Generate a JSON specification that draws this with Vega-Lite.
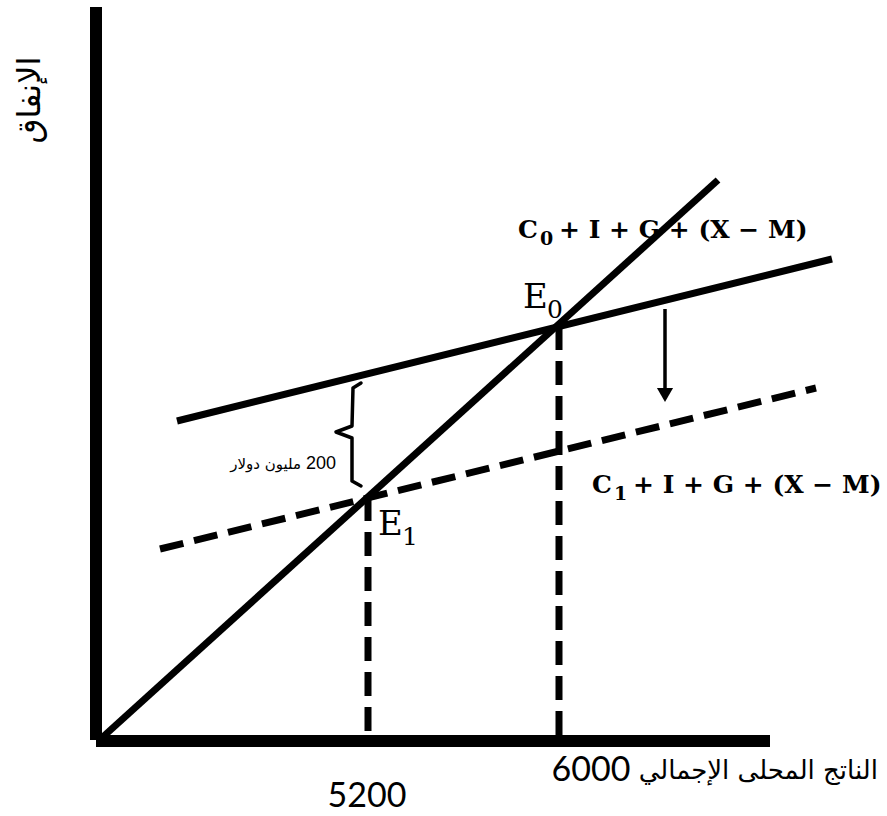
{
  "$schema": "https://vega.github.io/schema/vega-lite/v6.json",
  "width": 887,
  "height": 816,
  "autosize": {"type": "none"},
  "padding": 0,
  "background": "white",
  "config": {"view": {"stroke": null}},
  "datasets": {
    "axes": [
      {"name": "y-axis", "x": 0, "y": 1, "x2": 0, "y2": 734},
      {"name": "x-axis", "x": 0, "y": 0, "x2": 674, "y2": 0}
    ],
    "solid": [
      {"series": "diag", "o": 0, "x": 4, "y": 1.5},
      {"series": "diag", "o": 1, "x": 622, "y": 561},
      {"series": "ae0", "o": 0, "x": 81, "y": 320},
      {"series": "ae0", "o": 1, "x": 736, "y": 482}
    ],
    "dashed": [
      {"series": "ae1", "o": 0, "x": 64, "y": 192},
      {"series": "ae1", "o": 1, "x": 720, "y": 353},
      {"series": "v1", "o": 0, "x": 272, "y": 244},
      {"series": "v1", "o": 1, "x": 272, "y": 0},
      {"series": "v2", "o": 0, "x": 463, "y": 415},
      {"series": "v2", "o": 1, "x": 463, "y": 0}
    ],
    "brace": [
      {"o": 0, "x": 265, "y": 358},
      {"o": 1, "x": 257, "y": 353},
      {"o": 2, "x": 256, "y": 315},
      {"o": 3, "x": 240, "y": 309},
      {"o": 4, "x": 256, "y": 303},
      {"o": 5, "x": 256, "y": 260},
      {"o": 6, "x": 265, "y": 255}
    ],
    "arrow": [{"x": 569, "y": 432, "y2": 352}],
    "arrowhead": [{"x": 569, "y": 346}],
    "mathC": [
      {"label": "C", "x": 422, "y": 503},
      {"label": "C", "x": 496, "y": 248}
    ],
    "mathsub": [
      {"label": "0", "x": 444, "y": 496},
      {"label": "1", "x": 518, "y": 241}
    ],
    "mathrest": [
      {"label": " + I + G + (X − M)", "x": 463, "y": 503},
      {"label": " + I + G + (X − M)", "x": 537, "y": 248}
    ],
    "eq": [
      {"label": "E", "x": 427, "y": 433},
      {"label": "E", "x": 282, "y": 206}
    ],
    "eqsub": [
      {"label": "0", "x": 451, "y": 423},
      {"label": "1", "x": 306, "y": 196}
    ],
    "ticks": [
      {"label": "5200", "x": 271, "y": -56},
      {"label": "6000", "x": 495, "y": -30}
    ],
    "xtitle": [{"label": "الناتج المحلى الإجمالي", "x": 782, "y": -30}],
    "ytitle": [{"label": "الإنفاق", "x": -66, "y": 641}],
    "gapnum": [{"label": "200", "x": 240, "y": 277}],
    "gaptext": [{"label": "مليون دولار", "x": 205, "y": 277}]
  },
  "layer": [
    {
      "data": {"name": "axes"},
      "mark": {"type": "rule", "strokeWidth": 12, "color": "black", "strokeCap": "butt"},
      "encoding": {
        "x": {"field": "x", "type": "quantitative", "scale": {"domain": [-96, 791], "nice": false, "zero": false}, "axis": null},
        "y": {"field": "y", "type": "quantitative", "scale": {"domain": [-75, 741], "nice": false, "zero": false}, "axis": null},
        "x2": {"field": "x2"},
        "y2": {"field": "y2"}
      }
    },
    {
      "data": {"name": "solid"},
      "mark": {"type": "line", "strokeWidth": 7, "color": "black", "strokeCap": "butt"},
      "encoding": {
        "x": {"field": "x", "type": "quantitative"},
        "y": {"field": "y", "type": "quantitative"},
        "detail": {"field": "series"},
        "order": {"field": "o"}
      }
    },
    {
      "data": {"name": "dashed"},
      "mark": {"type": "line", "strokeWidth": 7, "color": "black", "strokeCap": "butt", "strokeDash": [24, 11]},
      "encoding": {
        "x": {"field": "x", "type": "quantitative"},
        "y": {"field": "y", "type": "quantitative"},
        "detail": {"field": "series"},
        "order": {"field": "o"}
      }
    },
    {
      "data": {"name": "brace"},
      "mark": {"type": "line", "strokeWidth": 3.5, "color": "black", "strokeJoin": "round", "strokeCap": "round"},
      "encoding": {
        "x": {"field": "x", "type": "quantitative"},
        "y": {"field": "y", "type": "quantitative"},
        "order": {"field": "o"}
      }
    },
    {
      "data": {"name": "arrow"},
      "mark": {"type": "rule", "strokeWidth": 3.5, "color": "black"},
      "encoding": {
        "x": {"field": "x", "type": "quantitative"},
        "y": {"field": "y", "type": "quantitative"},
        "y2": {"field": "y2"}
      }
    },
    {
      "data": {"name": "arrowhead"},
      "mark": {"type": "point", "shape": "triangle-down", "filled": true, "color": "black", "size": 260, "opacity": 1},
      "encoding": {
        "x": {"field": "x", "type": "quantitative"},
        "y": {"field": "y", "type": "quantitative"}
      }
    },
    {
      "data": {"name": "mathC"},
      "mark": {"type": "text", "font": "DejaVu Serif", "fontWeight": "bold", "fontSize": 25, "align": "left", "baseline": "alphabetic", "color": "black"},
      "encoding": {
        "x": {"field": "x", "type": "quantitative"},
        "y": {"field": "y", "type": "quantitative"},
        "text": {"field": "label"}
      }
    },
    {
      "data": {"name": "mathsub"},
      "mark": {"type": "text", "font": "DejaVu Serif", "fontWeight": "bold", "fontSize": 19, "align": "left", "baseline": "alphabetic", "color": "black"},
      "encoding": {
        "x": {"field": "x", "type": "quantitative"},
        "y": {"field": "y", "type": "quantitative"},
        "text": {"field": "label"}
      }
    },
    {
      "data": {"name": "mathrest"},
      "mark": {"type": "text", "font": "DejaVu Serif", "fontWeight": "bold", "fontSize": 25, "align": "left", "baseline": "alphabetic", "color": "black"},
      "encoding": {
        "x": {"field": "x", "type": "quantitative"},
        "y": {"field": "y", "type": "quantitative"},
        "text": {"field": "label"}
      }
    },
    {
      "data": {"name": "eq"},
      "mark": {"type": "text", "font": "DejaVu Serif", "fontSize": 34, "align": "left", "baseline": "alphabetic", "color": "black"},
      "encoding": {
        "x": {"field": "x", "type": "quantitative"},
        "y": {"field": "y", "type": "quantitative"},
        "text": {"field": "label"}
      }
    },
    {
      "data": {"name": "eqsub"},
      "mark": {"type": "text", "font": "DejaVu Serif", "fontSize": 25, "align": "left", "baseline": "alphabetic", "color": "black"},
      "encoding": {
        "x": {"field": "x", "type": "quantitative"},
        "y": {"field": "y", "type": "quantitative"},
        "text": {"field": "label"}
      }
    },
    {
      "data": {"name": "ticks"},
      "mark": {"type": "text", "font": "Lato", "fontSize": 34, "align": "center", "baseline": "middle", "color": "black"},
      "encoding": {
        "x": {"field": "x", "type": "quantitative"},
        "y": {"field": "y", "type": "quantitative"},
        "text": {"field": "label"}
      }
    },
    {
      "data": {"name": "xtitle"},
      "mark": {"type": "text", "font": "DejaVu Sans", "fontSize": 26, "align": "right", "baseline": "middle", "color": "black"},
      "encoding": {
        "x": {"field": "x", "type": "quantitative"},
        "y": {"field": "y", "type": "quantitative"},
        "text": {"field": "label"}
      }
    },
    {
      "data": {"name": "ytitle"},
      "mark": {"type": "text", "font": "DejaVu Sans", "fontSize": 32, "align": "center", "baseline": "middle", "angle": 270, "color": "black"},
      "encoding": {
        "x": {"field": "x", "type": "quantitative"},
        "y": {"field": "y", "type": "quantitative"},
        "text": {"field": "label"}
      }
    },
    {
      "data": {"name": "gapnum"},
      "mark": {"type": "text", "font": "Liberation Sans", "fontSize": 18, "align": "right", "baseline": "middle", "color": "black"},
      "encoding": {
        "x": {"field": "x", "type": "quantitative"},
        "y": {"field": "y", "type": "quantitative"},
        "text": {"field": "label"}
      }
    },
    {
      "data": {"name": "gaptext"},
      "mark": {"type": "text", "font": "DejaVu Sans", "fontSize": 15, "align": "right", "baseline": "middle", "color": "black"},
      "encoding": {
        "x": {"field": "x", "type": "quantitative"},
        "y": {"field": "y", "type": "quantitative"},
        "text": {"field": "label"}
      }
    }
  ]
}
